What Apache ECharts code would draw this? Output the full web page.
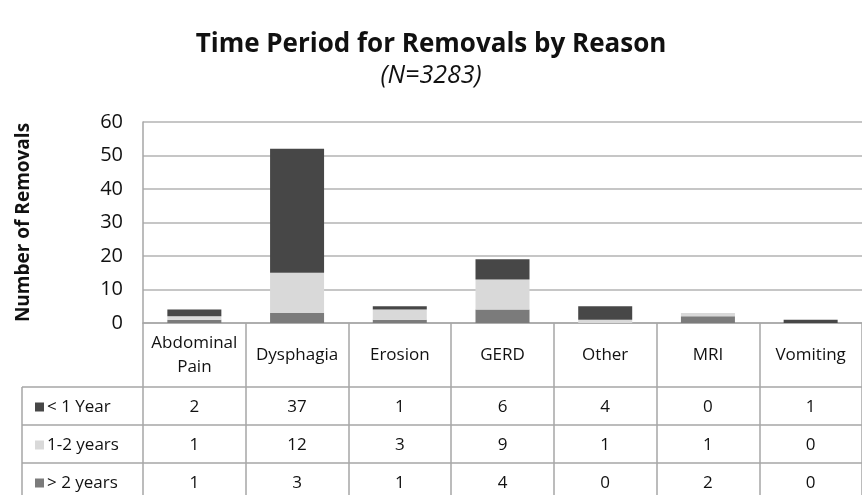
<!DOCTYPE html>
<html>
<head>
<meta charset="utf-8">
<script src="https://cdn.jsdelivr.net/npm/echarts@6/dist/echarts.min.js"></script>
<style>
  html, body { margin: 0; padding: 0; background: #fff; }
  #chart { width: 862px; height: 495px; }
</style>
</head>
<body>
<div id="chart"></div>
<script>
// Datos del gráfico
const reasons = ['Abdominal\nPain', 'Dysphagia', 'Erosion', 'GERD', 'Other', 'MRI', 'Vomiting'];
const seriesNames = ['< 1 Year', '1-2 years', '> 2 years'];
const lessThan1Year = [2, 37, 1, 6, 4, 0, 1];
const oneToTwoYears = [1, 12, 3, 9, 1, 1, 0];
const moreThan2Years = [1, 3, 1, 4, 0, 2, 0];
const yTicks = [0, 10, 20, 30, 40, 50, 60];

const rows = [lessThan1Year, oneToTwoYears, moreThan2Years];
const colors = ['#474747', '#d9d9d9', '#7b7b7b'];
const font = '"Open Sans", sans-serif';

// Geometría de la rejilla y de la tabla
const W = 862, H = 495;
const gridLeft = 143, gridTop = 122, gridBottom = 172, gridRight = -12;
const axisY = H - gridBottom;
const headerH = 64, rowH = 38;
const tableLeft = 22;
const lineColor = '#a6a6a6';

// Ejes extra que sirven como filas de la tabla de datos
const rowAxes = rows.map((vals, k) => ({
    type: 'category',
    data: reasons,
    position: 'bottom',
    offset: headerH + rowH * k + rowH / 2 + 1,
    axisLine: { show: false },
    axisTick: { show: false },
    axisLabel: {
        interval: 0,
        margin: 0,
        verticalAlign: 'middle',
        fontSize: 17,
        fontFamily: font,
        color: '#111',
        formatter: (v, i) => String(vals[i])
    }
}));

// Una leyenda por fila de la tabla
const legends = seriesNames.map((name, k) => ({
    data: [name],
    left: 30,
    top: axisY + headerH + rowH * k + rowH / 2 - 15,
    icon: 'rect',
    itemWidth: 9,
    itemHeight: 9,
    selectedMode: false,
    textStyle: { fontSize: 17, fontFamily: font, color: '#111', lineHeight: 22, padding: [0, 0, 0, -2] }
}));

// Líneas horizontales de la tabla
const tableLines = [];
for (let k = 0; k < rows.length; k++) {
    const y = axisY + headerH + rowH * k;
    tableLines.push({
        type: 'line',
        shape: { x1: tableLeft, y1: y, x2: W, y2: y },
        style: { stroke: lineColor, lineWidth: 1.5 }
    });
}
tableLines.push({
    type: 'line',
    shape: { x1: tableLeft, y1: axisY + headerH, x2: tableLeft, y2: H },
    style: { stroke: lineColor, lineWidth: 1.5 }
});

const option = {
    animation: false,
    backgroundColor: '#fff',
    title: {
        text: 'Time Period for Removals by Reason',
        subtext: '(N=3283)',
        left: 'center',
        top: 27,
        itemGap: 5,
        textStyle: { fontSize: 26, fontWeight: 'bold', color: '#111', fontFamily: font },
        subtextStyle: { fontSize: 25, fontStyle: 'italic', color: '#111', fontFamily: font }
    },
    legend: legends,
    grid: { left: gridLeft, right: gridRight, top: gridTop, bottom: gridBottom },
    xAxis: [{
        type: 'category',
        data: reasons,
        axisLine: { lineStyle: { color: lineColor, width: 1.5 } },
        axisTick: { show: true, interval: 0, length: gridBottom, lineStyle: { color: lineColor, width: 1.5 } },
        axisLabel: {
            interval: 0,
            margin: 32,
            verticalAlign: 'middle',
            fontSize: 17,
            lineHeight: 24,
            fontFamily: font,
            color: '#111'
        }
    }].concat(rowAxes),
    yAxis: {
        type: 'value',
        min: yTicks[0],
        max: yTicks[yTicks.length - 1],
        interval: 10,
        name: 'Number of Removals',
        nameLocation: 'middle',
        nameRotate: 90,
        nameGap: 110,
        nameTextStyle: { fontSize: 19, fontWeight: 'bold', fontFamily: font, color: '#111' },
        axisLine: { show: true, lineStyle: { color: lineColor, width: 1.5 } },
        axisTick: { show: false },
        axisLabel: { fontSize: 20, fontFamily: font, color: '#111', margin: 20 },
        splitLine: { lineStyle: { color: '#b3b3b3', width: 1.5 } }
    },
    series: [
        { name: seriesNames[2], type: 'bar', stack: 'total', data: moreThan2Years, barWidth: 54, itemStyle: { color: colors[2] } },
        { name: seriesNames[1], type: 'bar', stack: 'total', data: oneToTwoYears, barWidth: 54, itemStyle: { color: colors[1] } },
        { name: seriesNames[0], type: 'bar', stack: 'total', data: lessThan1Year, barWidth: 54, itemStyle: { color: colors[0] } }
    ],
    graphic: tableLines
};

const chart = echarts.init(document.getElementById('chart'));
chart.setOption(option);
</script>
</body>
</html>
